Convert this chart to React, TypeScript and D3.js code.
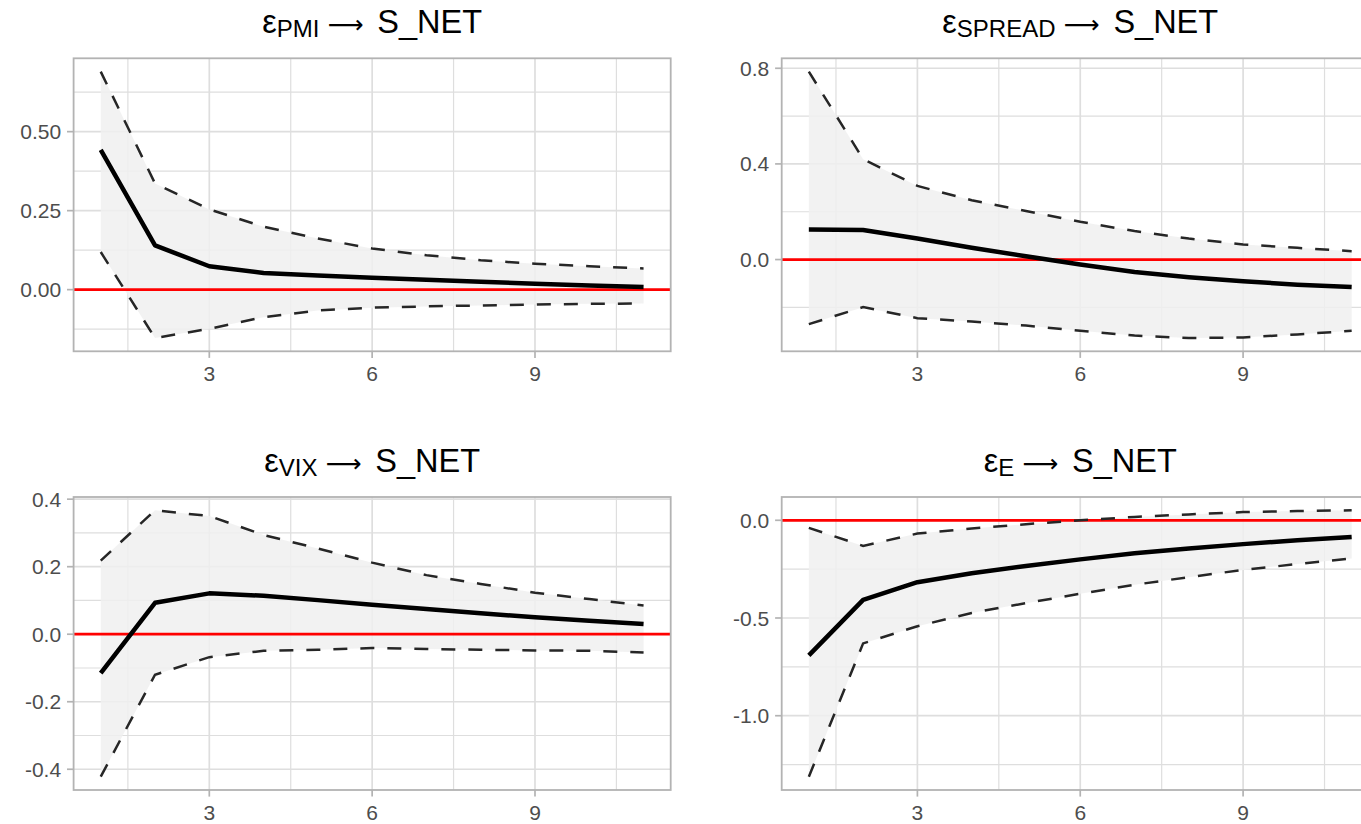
import React from 'react';
import * as d3 from 'd3';

// Horizons (x axis)
const horizons = [1, 2, 3, 4, 5, 6, 7, 8, 9, 10, 11];
const xTicks = [3, 6, 9];
const xTickLabels = ['3', '6', '9'];

// ε_PMI → S_NET
const pmiMean = [0.442, 0.140, 0.074, 0.053, 0.045, 0.038, 0.031, 0.025, 0.019, 0.013, 0.008];
const pmiUpper = [0.690, 0.336, 0.254, 0.199, 0.162, 0.130, 0.109, 0.093, 0.082, 0.074, 0.067];
const pmiLower = [0.119, -0.153, -0.124, -0.087, -0.066, -0.057, -0.053, -0.050, -0.047, -0.045, -0.044];
const pmiTicks = [0, 0.25, 0.5];
const pmiTickLabels = ['0.00', '0.25', '0.50'];

// ε_SPREAD → S_NET
const spreadMean = [0.126, 0.124, 0.088, 0.049, 0.014, -0.021, -0.052, -0.074, -0.091, -0.105, -0.115];
const spreadUpper = [0.786, 0.420, 0.308, 0.248, 0.203, 0.158, 0.119, 0.088, 0.063, 0.049, 0.035];
const spreadLower = [-0.270, -0.199, -0.245, -0.259, -0.276, -0.298, -0.318, -0.328, -0.326, -0.313, -0.298];
const spreadTicks = [0, 0.4, 0.8];
const spreadTickLabels = ['0.0', '0.4', '0.8'];

// ε_VIX → S_NET
const vixMean = [-0.115, 0.093, 0.121, 0.114, 0.101, 0.087, 0.075, 0.062, 0.050, 0.040, 0.030];
const vixUpper = [0.218, 0.367, 0.350, 0.294, 0.254, 0.212, 0.175, 0.149, 0.123, 0.104, 0.085];
const vixLower = [-0.422, -0.120, -0.068, -0.049, -0.046, -0.041, -0.044, -0.046, -0.048, -0.049, -0.054];
const vixTicks = [-0.4, -0.2, 0, 0.2, 0.4];
const vixTickLabels = ['-0.4', '-0.2', '0.0', '0.2', '0.4'];

// ε_E → S_NET
const eMean = [-0.691, -0.407, -0.317, -0.271, -0.234, -0.200, -0.169, -0.144, -0.122, -0.102, -0.085];
const eUpper = [-0.039, -0.131, -0.068, -0.042, -0.020, 0.000, 0.017, 0.030, 0.042, 0.047, 0.051];
const eLower = [-1.312, -0.630, -0.542, -0.474, -0.424, -0.376, -0.330, -0.291, -0.254, -0.224, -0.195];
const eTicks = [-1.0, -0.5, 0];
const eTickLabels = ['-1.0', '-0.5', '0.0'];

const panels = [
  { sub: 'PMI', mean: pmiMean, upper: pmiUpper, lower: pmiLower, ticks: pmiTicks, labels: pmiTickLabels, col: 0, row: 0 },
  { sub: 'SPREAD', mean: spreadMean, upper: spreadUpper, lower: spreadLower, ticks: spreadTicks, labels: spreadTickLabels, col: 1, row: 0 },
  { sub: 'VIX', mean: vixMean, upper: vixUpper, lower: vixLower, ticks: vixTicks, labels: vixTickLabels, col: 0, row: 1 },
  { sub: 'E', mean: eMean, upper: eUpper, lower: eLower, ticks: eTicks, labels: eTickLabels, col: 1, row: 1 },
];

const COL_X = [73.6, 781.7];
const ROW_Y = [58.3, 497];
const PW = 597.1;
const PH = 293;
const FONT = '"Liberation Sans", Arial, Helvetica, sans-serif';

function expand([a, b]: [number, number]): [number, number] {
  const d = (b - a) * 0.05;
  return [a - d, b + d];
}

function minorBreaks(ticks: number[], domain: [number, number]) {
  const step = ticks[1] - ticks[0];
  const out: number[] = [];
  for (let i = -1; i < ticks.length; i++) {
    const v = ticks[0] + step * (i + 0.5);
    if (v > domain[0] && v < domain[1]) out.push(v);
  }
  return out;
}

function Panel({ p }: { p: (typeof panels)[number] }) {
  const x0 = COL_X[p.col];
  const y0 = ROW_Y[p.row];
  const xDom = expand(d3.extent(horizons) as [number, number]);
  const yDom = expand(d3.extent([...p.lower, ...p.upper, 0]) as [number, number]);
  const xs = d3.scaleLinear().domain(xDom).range([x0, x0 + PW]);
  const ys = d3.scaleLinear().domain(yDom).range([y0 + PH, y0]);

  const area = d3
    .area<number>()
    .x((_, i) => xs(horizons[i]))
    .y0((_, i) => ys(p.lower[i]))
    .y1((_, i) => ys(p.upper[i]));
  const line = d3
    .line<number>()
    .x((_, i) => xs(horizons[i]))
    .y((d) => ys(d));

  const xMinor = minorBreaks(xTicks, xDom);
  const yMinor = minorBreaks(p.ticks, yDom);
  const clipId = `clip-${p.sub}`;
  const grid = '#DEDEDE';

  return (
    <g>
      <defs>
        <clipPath id={clipId}>
          <rect x={x0} y={y0} width={PW} height={PH} />
        </clipPath>
      </defs>
      <text
        x={x0 + PW / 2}
        y={y0 - 25}
        textAnchor="middle"
        fontFamily={FONT}
        fontSize={32.5}
        fill="#000"
      >
        <tspan>ε</tspan>
        <tspan fontSize={24} dy={4}>{p.sub}</tspan>
        <tspan dy={-4} dx={8} fontSize={25} fontFamily='"DejaVu Sans", sans-serif'>{'⟶'}</tspan>
        <tspan dx={14}>{'S_NET'}</tspan>
      </text>
      <g clipPath={`url(#${clipId})`}>
        {yMinor.map((v) => (
          <line key={`ym${v}`} x1={x0} x2={x0 + PW} y1={ys(v)} y2={ys(v)} stroke={grid} strokeWidth={1.2} />
        ))}
        {xMinor.map((v) => (
          <line key={`xm${v}`} y1={y0} y2={y0 + PH} x1={xs(v)} x2={xs(v)} stroke={grid} strokeWidth={1.2} />
        ))}
        {p.ticks.map((v) => (
          <line key={`yM${v}`} x1={x0} x2={x0 + PW} y1={ys(v)} y2={ys(v)} stroke={grid} strokeWidth={1.7} />
        ))}
        {xTicks.map((v) => (
          <line key={`xM${v}`} y1={y0} y2={y0 + PH} x1={xs(v)} x2={xs(v)} stroke={grid} strokeWidth={1.7} />
        ))}
        <path d={area(p.mean) || ''} fill="#F0F0F0" fillOpacity={0.85} />
        <line x1={x0} x2={x0 + PW} y1={ys(0)} y2={ys(0)} stroke="#FF0000" strokeWidth={2.8} />
        <path d={line(p.upper) || ''} fill="none" stroke="#262626" strokeWidth={2.5} strokeDasharray="14,13" />
        <path d={line(p.lower) || ''} fill="none" stroke="#262626" strokeWidth={2.5} strokeDasharray="14,13" />
        <path d={line(p.mean) || ''} fill="none" stroke="#000" strokeWidth={4.5} strokeLinejoin="round" />
      </g>
      <rect x={x0} y={y0} width={PW} height={PH} fill="none" stroke="#B3B3B3" strokeWidth={1.8} />
      {p.ticks.map((v, i) => (
        <g key={`yt${v}`}>
          <line x1={x0 - 6.6} x2={x0} y1={ys(v)} y2={ys(v)} stroke="#B3B3B3" strokeWidth={1.7} />
          <text
            x={x0 - 12.5}
            y={ys(v)}
            dy="0.36em"
            textAnchor="end"
            fontFamily={FONT}
            fontSize={21}
            fill="#4D4D4D"
          >
            {p.labels[i]}
          </text>
        </g>
      ))}
      {xTicks.map((v, i) => (
        <g key={`xt${v}`}>
          <line x1={xs(v)} x2={xs(v)} y1={y0 + PH} y2={y0 + PH + 6.6} stroke="#B3B3B3" strokeWidth={1.7} />
          <text
            x={xs(v)}
            y={y0 + PH + 30}
            textAnchor="middle"
            fontFamily={FONT}
            fontSize={21}
            fill="#4D4D4D"
          >
            {xTickLabels[i]}
          </text>
        </g>
      ))}
    </g>
  );
}

export default function App() {
  return (
    <div style={{ position: 'absolute', left: 0, top: 0, width: 1361, height: 824, overflow: 'hidden', background: '#fff' }}>
      <svg width={1361} height={824} style={{ display: 'block' }}>
        <rect width={1361} height={824} fill="#fff" />
        {panels.map((p) => (
          <Panel key={p.sub} p={p} />
        ))}
      </svg>
    </div>
  );
}
